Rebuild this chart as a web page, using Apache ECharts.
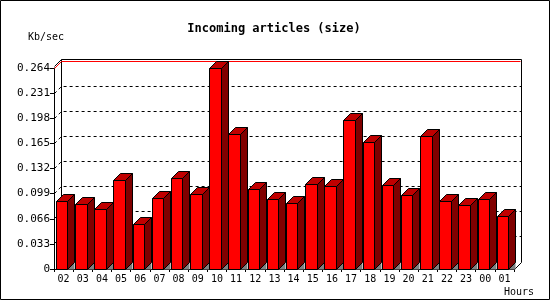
<!DOCTYPE html>
<html><head><meta charset="utf-8">
<script src="https://cdn.jsdelivr.net/npm/echarts@6/dist/echarts.min.js"></script>
<style>html,body{margin:0;padding:0;background:#fff}#c{width:550px;height:300px}</style>
</head><body><div id="c"></div>
<script>
const hours = ['02','03','04','05','06','07','08','09','10','11','12','13','14','15','16','17','18','19','20','21','22','23','00','01'];
const sizeKbps = [0.0893,0.0841,0.0788,0.1156,0.0587,0.0929,0.1191,0.0981,0.2627,0.1773,0.1038,0.0919,0.0863,0.1116,0.1090,0.1944,0.1664,0.1103,0.0959,0.1734,0.0893,0.0837,0.0915,0.0692];
const yMin = 0, yMax = 0.264, yStep = 0.033;
const gridVals = [0.033,0.066,0.099,0.132,0.165,0.198,0.231];
const titleText = 'Incoming articles (size)';
const yName = 'Kb/sec';
const xName = 'Hours';

const D = 7;
const FONT = '"DejaVu Sans Mono", monospace';
const r = v => Math.round(v - 0.5) + 0.5;

const chart = echarts.init(document.getElementById('c'), null, {renderer: 'canvas'});

function gridItem(params, api) {
  const cs = params.coordSys;
  const y = r(api.coord([0, api.value(1)])[1]);
  const x0 = r(cs.x), x1 = r(cs.x + cs.width + D);
  return {
    type: 'polyline', silent: true,
    shape: {points: [[x0, y], [x0 + D, y - D], [x1, y - D]]},
    style: {stroke: '#000', lineWidth: 1, lineDash: [3, 3], fill: null}
  };
}

function wallItem(params, api) {
  const cs = params.coordSys;
  const yTop = r(api.coord([0, yMax])[1]);
  const yBot = r(cs.y + cs.height);
  const xl = r(cs.x), xr = r(cs.x + cs.width);
  const st = {stroke: '#000', lineWidth: 1, fill: null};
  return {
    type: 'group', children: [
      {type: 'polyline', shape: {points: [[xl + D, yBot - D], [xl + D, yTop - D - 2], [xr + D, yTop - D - 2], [xr + D, yBot - D], [xr, yBot]]}, style: st},
      {type: 'polyline', shape: {points: [[xl, yTop - 2], [xl + D, yTop - D - 2]]}, style: st},
      {type: 'polyline', shape: {points: [[xl, yTop], [xl + D, yTop - D], [xr + D - 1, yTop - D]]}, style: {stroke: '#ff0000', lineWidth: 1, fill: null}}
    ]
  };
}

function barItem(params, api) {
  const i = api.value(0), v = api.value(1);
  const top = api.coord([i, v]);
  const base = api.coord([i, 0]);
  const bw = api.size([1, 0])[0];
  const bandStart = top[0] - bw / 2;
  const fl = r(bandStart + 0.125 * bw);
  const fr = r(bandStart + 0.73 * bw);
  const yt = r(top[1]), yb = r(base[1]);
  const st = c => ({fill: c, stroke: '#000', lineWidth: 1});
  return {
    type: 'group', children: [
      {type: 'polygon', shape: {points: [[fr, yb], [fr + D, yb - D], [fr + D, yb]]}, style: {fill: '#808080', stroke: null}},
      {type: 'polygon', shape: {points: [[fr, yt], [fr + D, yt - D], [fr + D, yb - D], [fr, yb]]}, style: st('#800000')},
      {type: 'polygon', shape: {points: [[fl, yt], [fl + D, yt - D], [fr + D, yt - D], [fr, yt]]}, style: st('#c00000')},
      {type: 'rect', shape: {x: fl, y: yt, width: fr - fl, height: yb - yt}, style: st('#ff0000')}
    ]
  };
}

chart.setOption({
  animation: false,
  backgroundColor: '#fff',
  title: {text: titleText, left: 269, top: 18, textAlign: 'center',
    textStyle: {fontFamily: FONT, fontSize: 12, fontWeight: 'bold', color: '#000'}},
  grid: {left: 54, right: 36, top: 68, bottom: 31},
  xAxis: {
    type: 'category', data: hours,
    axisLine: {show: true, lineStyle: {color: '#000', width: 1}},
    axisTick: {show: true, length: 3, lineStyle: {color: '#000'}},
    axisLabel: {color: '#000', fontFamily: FONT, fontSize: 10, margin: 5, interval: 0},
    splitLine: {show: false}
  },
  yAxis: {
    type: 'value', min: yMin, max: yMax, interval: yStep,
    axisLine: {show: true, lineStyle: {color: '#000', width: 1}},
    axisTick: {show: true, length: 4, lineStyle: {color: '#000'}},
    axisLabel: {color: '#000', fontFamily: FONT, fontSize: 11, margin: 4,
      formatter: v => v === 0 ? '0' : v.toFixed(3)},
    splitLine: {show: false}
  },
  graphic: [
    {type: 'rect', shape: {x: 0.5, y: 0.5, width: 549, height: 299}, style: {fill: null, stroke: '#000', lineWidth: 1}, z: 100},
    {type: 'text', left: 28, top: 32, style: {text: yName, fontFamily: FONT, fontSize: 10, fill: '#000'}},
    {type: 'text', right: 16, top: 287, style: {text: xName, fontFamily: FONT, fontSize: 10, fill: '#000'}}
  ],
  series: [
    {type: 'custom', name: 'grid', renderItem: gridItem, data: gridVals.map(v => [0, v]), z: 1, silent: true},
    {type: 'custom', name: 'walls', renderItem: wallItem, data: [[0, yMax]], z: 2, silent: true},
    {type: 'custom', name: 'size', renderItem: barItem, data: sizeKbps.map((v, i) => [i, v]), z: 3}
  ]
});
</script>
</body></html>
